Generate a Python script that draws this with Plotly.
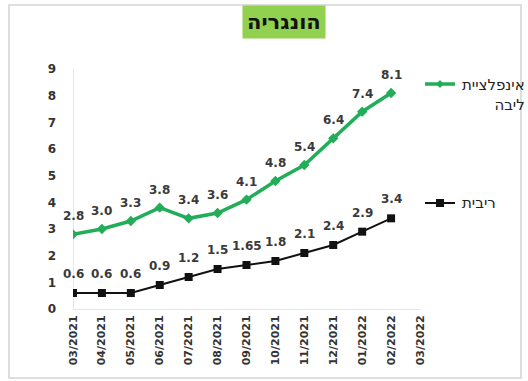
import plotly.graph_objects as go

# Monthly data, Hungary
months = ["03/2021", "04/2021", "05/2021", "06/2021", "07/2021", "08/2021",
          "09/2021", "10/2021", "11/2021", "12/2021", "01/2022", "02/2022", "03/2022"]
core_inflation = [2.8, 3.0, 3.3, 3.8, 3.4, 3.6, 4.1, 4.8, 5.4, 6.4, 7.4, 8.1]
interest_rate = [0.6, 0.6, 0.6, 0.9, 1.2, 1.5, 1.65, 1.8, 2.1, 2.4, 2.9, 3.4]
core_labels = ["2.8", "3.0", "3.3", "3.8", "3.4", "3.6", "4.1", "4.8", "5.4", "6.4", "7.4", "8.1"]
rate_labels = ["0.6", "0.6", "0.6", "0.9", "1.2", "1.5", "1.65", "1.8", "2.1", "2.4", "2.9", "3.4"]

GREEN = "#22ad58"
BLACK = "#111111"
LABEL = "#3a3a3a"
FONT = "DejaVu Sans"

W, H = 528, 381
L, R, T, B = 73, 108, 69, 72
PW, PH = W - L - R, H - T - B


def px_x(p):
    return (p - L) / PW


def px_y(p):
    return (H - B - p) / PH


fig = go.Figure()
fig.add_trace(go.Scatter(
    x=months[:len(core_inflation)], y=core_inflation, mode="lines+markers",
    line=dict(color=GREEN, width=3.5),
    marker=dict(symbol="diamond", size=8, color=GREEN),
    showlegend=False, hoverinfo="skip",
))
fig.add_trace(go.Scatter(
    x=months[:len(interest_rate)], y=interest_rate, mode="lines+markers",
    line=dict(color=BLACK, width=2),
    marker=dict(symbol="square", size=8, color=BLACK),
    showlegend=False, hoverinfo="skip",
))

annotations = []
for m, v, t in zip(months, core_inflation, core_labels):
    annotations.append(dict(x=m, y=v, text=t, showarrow=False, yshift=18,
                            font=dict(family=FONT, size=12, color=LABEL, weight="bold")))
for m, v, t in zip(months, interest_rate, rate_labels):
    annotations.append(dict(x=m, y=v, text=t, showarrow=False, yshift=19,
                            font=dict(family=FONT, size=12, color=LABEL, weight="bold")))

# Title box
annotations.append(dict(
    xref="paper", yref="paper", x=px_x(284), y=px_y(22.5), text="הונגריה",
    showarrow=False, xanchor="center", yanchor="middle",
    bgcolor="#92d050", borderpad=4,
    font=dict(family=FONT, size=21, color="#111111", weight="bold"),
))

# Legend labels
annotations.append(dict(
    xref="paper", yref="paper", x=px_x(460), y=px_y(74), text="אינפלציית<br>ליבה",
    showarrow=False, xanchor="left", yanchor="top", align="right",
    font=dict(family=FONT, size=15, color="#222222"),
))
annotations.append(dict(
    xref="paper", yref="paper", x=px_x(460), y=px_y(203), text="ריבית",
    showarrow=False, xanchor="left", yanchor="middle",
    font=dict(family=FONT, size=15, color="#222222"),
))

shapes = [
    # outer frame
    dict(type="rect", xref="paper", yref="paper",
         x0=px_x(9), x1=px_x(521), y0=px_y(378), y1=px_y(5),
         line=dict(color="#d4d4d4", width=1.5), layer="below"),
    # legend swatches
    dict(type="line", xref="paper", yref="paper",
         x0=px_x(425), x1=px_x(455), y0=px_y(84), y1=px_y(84),
         line=dict(color=GREEN, width=3.5)),
    dict(type="path", xref="paper", yref="paper",
         path=f"M {px_x(440)} {px_y(80)} L {px_x(444)} {px_y(84)} L {px_x(440)} {px_y(88)} L {px_x(436)} {px_y(84)} Z",
         fillcolor=GREEN, line=dict(width=0)),
    dict(type="line", xref="paper", yref="paper",
         x0=px_x(425), x1=px_x(455), y0=px_y(203), y1=px_y(203),
         line=dict(color=BLACK, width=2)),
    dict(type="rect", xref="paper", yref="paper",
         x0=px_x(436), x1=px_x(444), y0=px_y(207), y1=px_y(199),
         fillcolor=BLACK, line=dict(width=0)),
]

fig.update_layout(
    width=W, height=H,
    margin=dict(l=L, r=R, t=T, b=B, autoexpand=False),
    paper_bgcolor="white", plot_bgcolor="white",
    annotations=annotations, shapes=shapes,
    font=dict(family=FONT),
    xaxis=dict(
        type="category", categoryorder="array", categoryarray=months,
        tickmode="array", tickvals=months, ticktext=months,
        range=[0, len(months) - 1], tickangle=-90, automargin=False,
        showgrid=False, zeroline=False, showline=True, linecolor="#e4e4e4", linewidth=1,
        ticks="", ticklabelstandoff=1,
        tickfont=dict(family=FONT, size=11, color="#333333", weight="bold"),
    ),
    yaxis=dict(
        range=[0, 9], dtick=1, showgrid=False, zeroline=False, automargin=False,
        showline=False, ticks="", ticklabelstandoff=16,
        tickfont=dict(family=FONT, size=12, color="#333333", weight="bold"),
    ),
)

# vertical axis line through the first category
fig.add_shape(type="line", xref="x", yref="paper", x0=0, x1=0, y0=0, y1=1,
              line=dict(color="#cfcfcf", width=1), layer="below")

fig.write_html("out.html")
